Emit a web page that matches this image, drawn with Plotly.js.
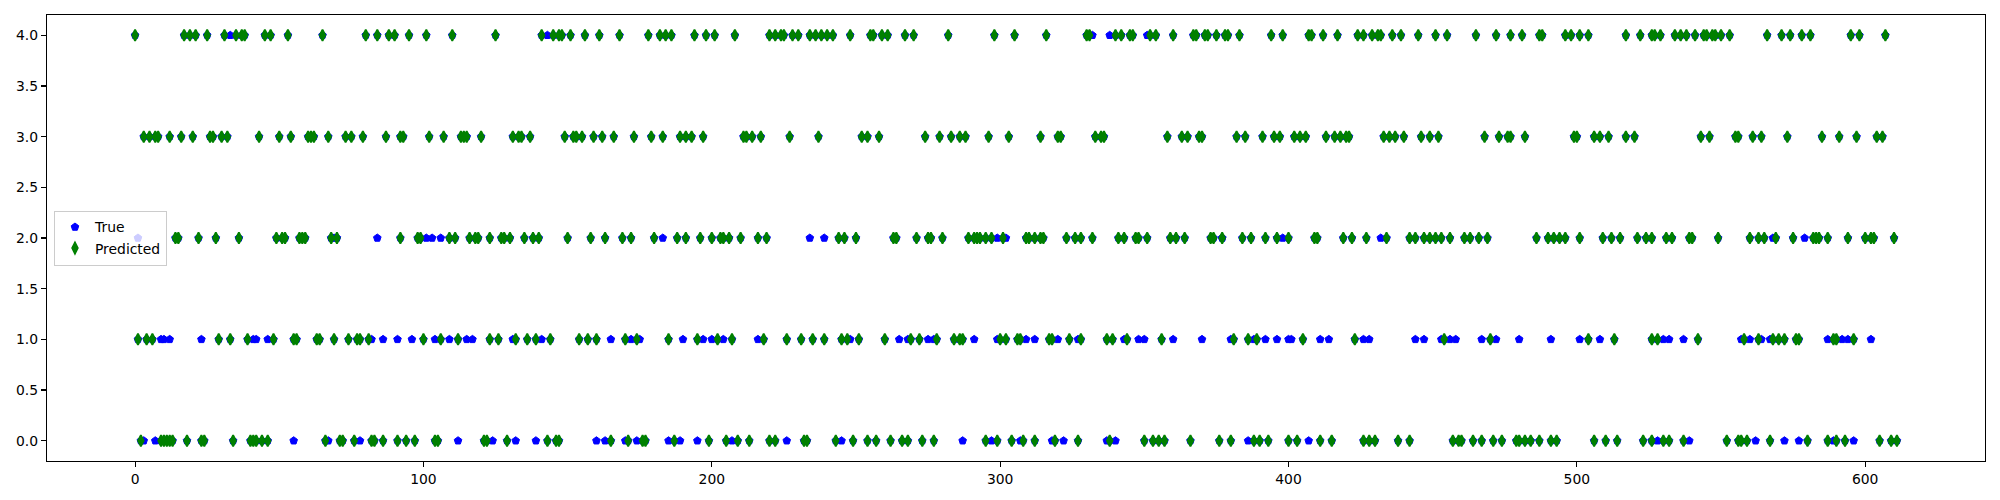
<!DOCTYPE html>
<html>
<head>
<meta charset="utf-8">
<script src="https://cdn.plot.ly/plotly-3.0.1.min.js"></script>
<style>html,body{margin:0;padding:0;background:#fff;}#chart{width:2000px;height:500px;}</style>
</head>
<body>
<div id="chart"></div>
<script>
// Sample indices where the model predicted each class (green diamonds)
const pred0 = [2,9,10,11,12,13,18,23,24,34,40,41,42,44,46,66,71,72,76,82,83,86,91,94,97,104,105,121,122,129,143,146,147,165,171,176,177,187,199,205,209,213,220,222,232,233,243,249,254,257,262,266,268,273,277,295,299,304,308,312,319,327,338,350,353,355,357,366,376,380,388,390,393,400,403,411,415,426,428,430,438,442,457,459,460,464,467,471,474,479,480,482,484,487,491,493,506,510,514,523,526,530,532,537,552,556,557,559,567,580,587,590,593,605,609,611];
const pred1 = [1,4,6,29,33,39,48,55,56,63,64,69,74,77,78,81,100,106,112,123,126,132,136,139,144,154,157,160,170,174,185,195,202,207,218,226,231,235,239,245,247,251,260,269,272,278,284,286,287,300,302,306,307,317,318,324,328,337,339,344,356,381,386,389,405,423,454,470,504,513,526,528,542,558,563,568,570,572,576,577,589,590,596];
const pred2 = [14,15,22,28,36,49,51,52,57,58,59,68,70,92,98,99,109,111,116,118,119,123,127,128,130,135,138,140,150,158,163,169,172,180,188,191,196,200,203,204,206,210,216,219,244,246,250,263,264,271,275,276,280,289,291,292,293,295,297,301,309,310,312,314,315,323,326,328,332,341,343,347,348,351,359,361,364,373,374,377,384,387,392,396,400,409,410,419,422,427,434,442,444,447,449,451,453,456,461,463,466,469,486,490,492,494,496,501,509,512,515,521,524,526,531,533,539,540,549,560,563,565,569,575,582,583,584,587,594,600,602,603,610];
const pred3 = [3,5,7,8,12,16,20,26,27,30,32,43,50,54,60,61,62,67,73,75,79,87,92,93,102,107,113,114,115,120,131,133,134,137,149,152,153,155,159,162,166,173,179,183,189,191,193,197,211,212,214,217,227,237,252,254,258,274,279,283,286,288,296,303,314,320,321,333,335,336,358,363,365,369,370,382,385,391,395,397,402,404,406,413,416,418,420,421,433,435,437,440,446,449,452,468,473,476,477,482,499,500,506,508,511,517,520,543,546,555,556,561,564,573,585,591,597,604,606];
const pred4 = [0,17,19,21,25,31,35,37,38,45,47,53,65,80,84,88,90,95,101,110,125,141,145,147,148,151,156,161,168,178,182,184,186,194,198,201,208,220,222,224,225,228,230,234,236,238,240,242,248,255,256,259,261,267,270,282,298,305,316,330,331,340,342,345,346,352,354,360,367,368,371,372,375,378,379,383,394,398,407,408,412,417,424,426,429,431,432,436,439,445,451,455,465,472,477,481,487,488,496,498,501,504,517,522,526,527,529,534,536,538,541,544,545,547,548,550,553,566,571,574,578,581,595,598,607];

// Sample indices where the true class differs from the prediction (visible blue pentagons)
const missTrue0 = [3,7,55,67,78,112,124,132,139,160,163,170,174,185,189,195,207,226,245,287,297,307,318,322,337,340,386,407,526,528,539,562,572,577,589,596];
const missTrue1 = [9,10,12,23,41,42,46,82,86,91,96,104,109,115,117,131,141,165,172,175,190,197,200,204,216,248,265,268,275,277,291,299,309,312,320,327,343,348,350,360,370,380,388,392,396,400,401,411,414,426,428,444,447,453,456,458,467,472,480,491,501,508,530,532,537,557,560,564,567,587,592,594,602];
const missTrue2 = [1,69,84,101,103,106,183,234,239,299,302,377,398,432,568,579];
const missTrue3 = [];
const missTrue4 = [33,143,332,338,351];

const classes = [0,1,2,3,4];
const predLists = [pred0,pred1,pred2,pred3,pred4];
const missLists = [missTrue0,missTrue1,missTrue2,missTrue3,missTrue4];

const tX = [], tY = [], pX = [], pY = [];
classes.forEach((c, k) => {
  predLists[k].forEach(i => { pX.push(i); pY.push(c); tX.push(i); tY.push(c); });
  missLists[k].forEach(i => { tX.push(i); tY.push(c); });
});

const font = {family: 'DejaVu Sans, sans-serif', size: 13.9, color: '#000'};

const traces = [
  {x: tX, y: tY, type: 'scatter', mode: 'markers', name: 'True',
   marker: {symbol: 'pentagon', size: 8, color: '#0000ff', line: {color: '#0000ff', width: 1}}},
  {x: pX, y: pY, type: 'scatter', mode: 'markers', name: 'Predicted',
   marker: {symbol: 'diamond-tall', size: 8, color: '#008000', line: {color: '#008000', width: 1.8}}}
];

const axisCommon = {
  showgrid: false, zeroline: false, showline: true, mirror: true,
  linecolor: '#000', linewidth: 1.1, ticks: 'outside', ticklen: 5, tickwidth: 1.1,
  tickcolor: '#000', tickfont: font
};

const layout = {
  width: 2000, height: 500,
  margin: {l: 47, r: 15, t: 15, b: 39},
  paper_bgcolor: '#fff', plot_bgcolor: '#fff',
  font: font,
  showlegend: true,
  legend: {x: 0.0036, xanchor: 'left', y: 0.5, yanchor: 'middle',
           bgcolor: 'rgba(255,255,255,0.8)', bordercolor: '#cccccc', borderwidth: 1,
           font: font, tracegroupgap: 0},
  xaxis: Object.assign({}, axisCommon, {range: [-30.55, 641.55], tickvals: [0,100,200,300,400,500,600], ticktext: ['0','100','200','300','400','500','600']}),
  yaxis: Object.assign({}, axisCommon, {range: [-0.2, 4.2], tickvals: [0,0.5,1,1.5,2,2.5,3,3.5,4], ticktext: ['0.0','0.5','1.0','1.5','2.0','2.5','3.0','3.5','4.0']})
};

Plotly.newPlot('chart', traces, layout, {displayModeBar: false, staticPlot: true});
</script>
</body>
</html>
